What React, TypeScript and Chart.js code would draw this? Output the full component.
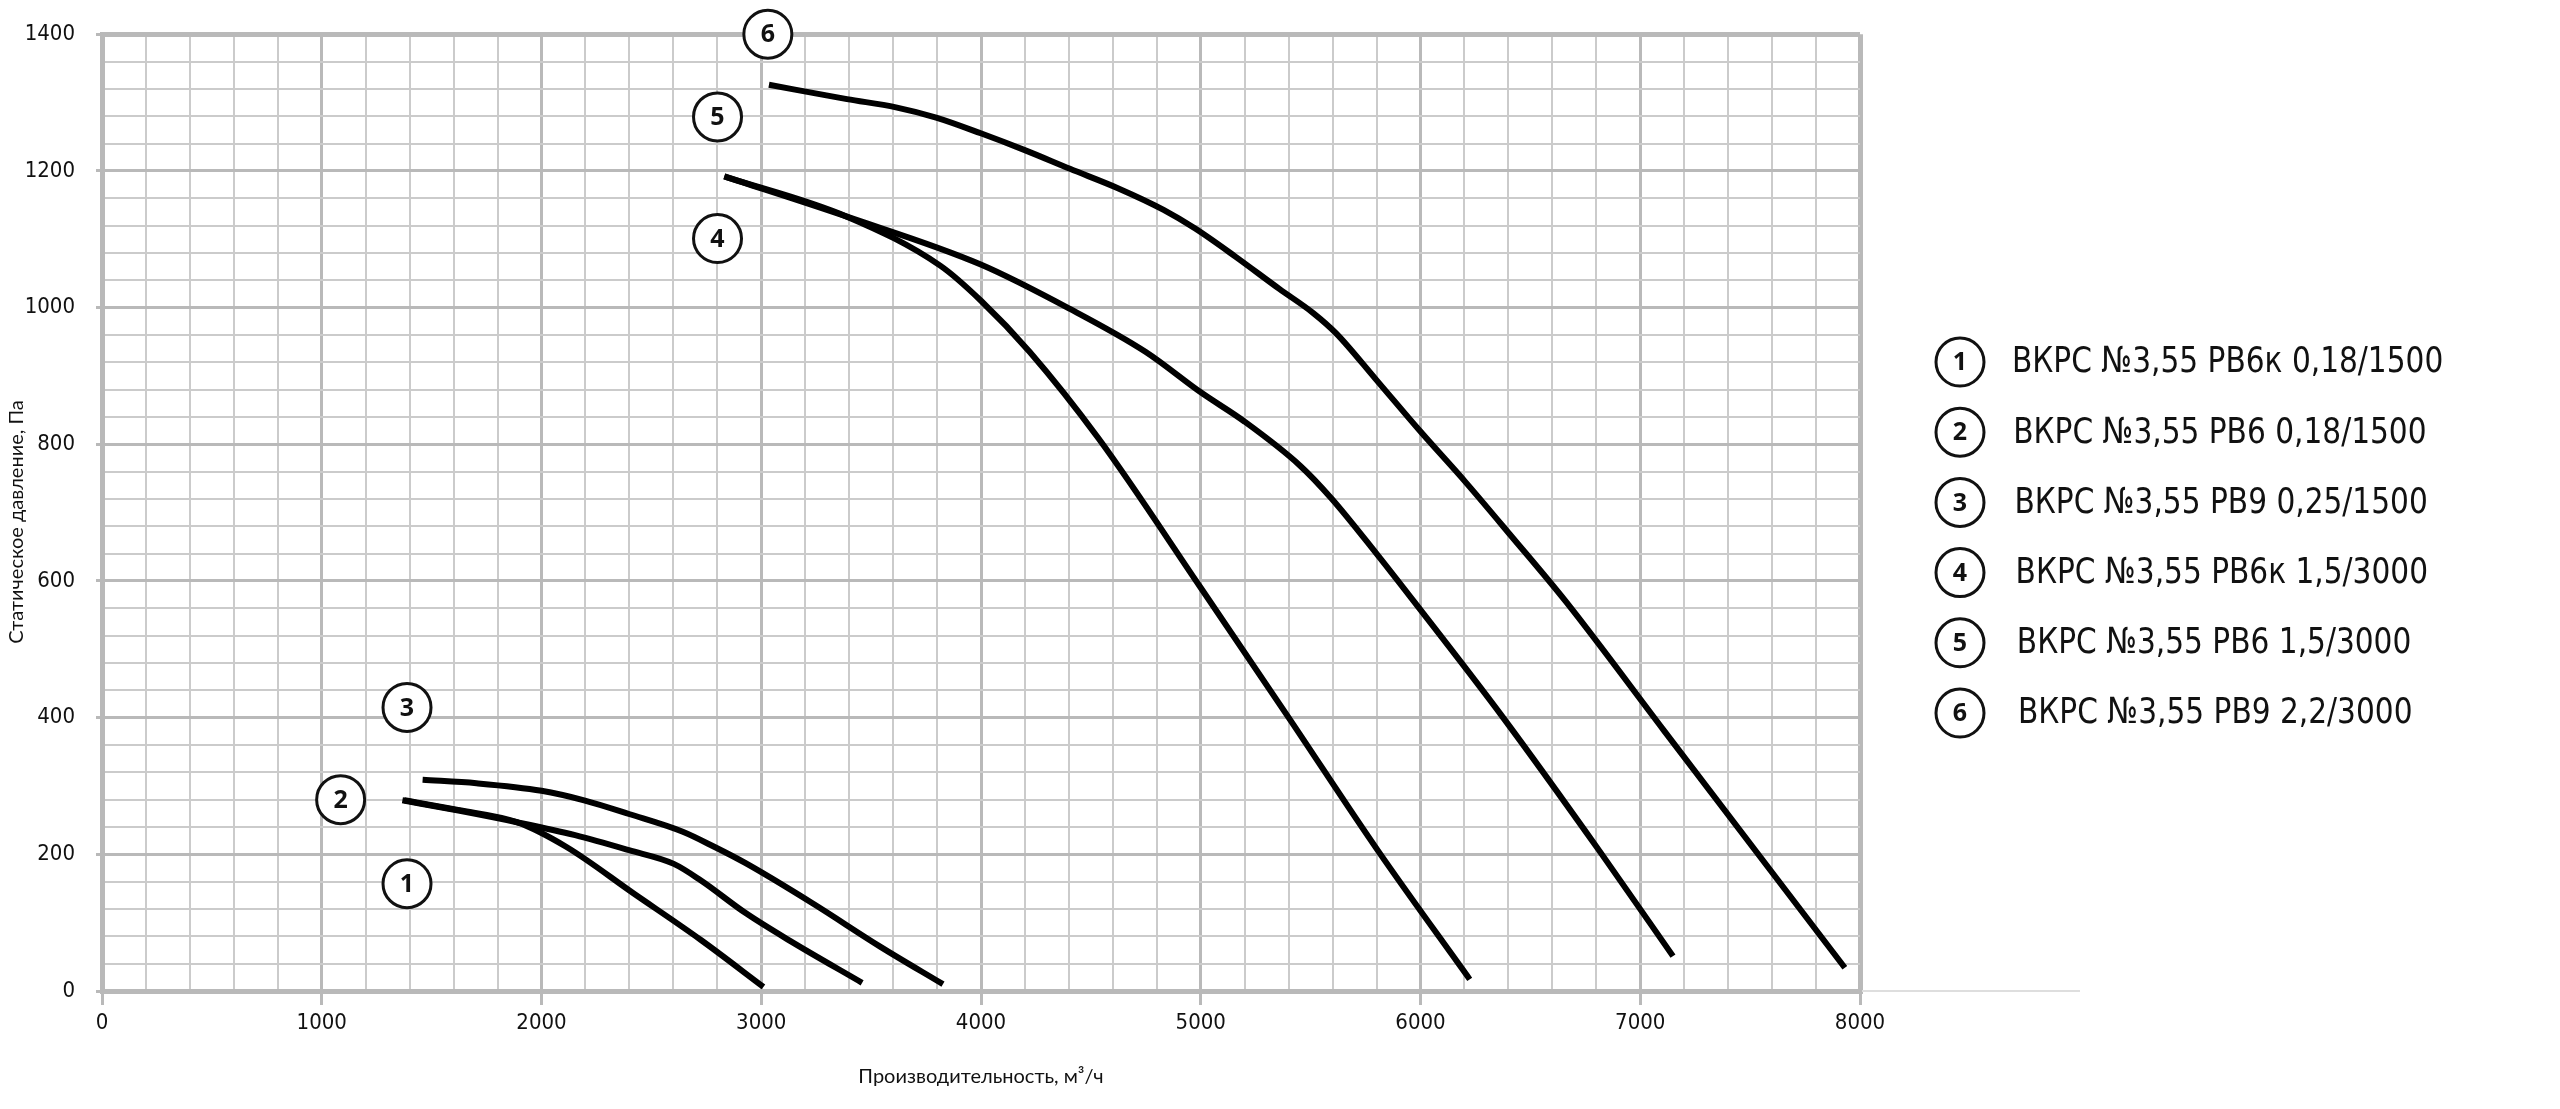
import React, { useEffect, useRef } from 'react';
import { Chart, registerables } from 'chart.js';

Chart.register(...registerables);

// ---- data (airflow m³/h, static pressure Pa) ----
const curve1X = [1375, 1620, 1888, 2112, 2418, 2724, 3010];
const curve1Y = [279, 265, 247, 211, 143, 75, 6];

const curve2X = [1367, 1622, 1888, 2153, 2398, 2602, 2724, 2929, 3133, 3459];
const curve2Y = [279, 264, 247, 228, 206, 186, 162, 114, 73, 12];

const curve3X = [1459, 1704, 2000, 2194, 2398, 2643, 2786, 2929, 3235, 3541, 3827];
const curve3Y = [309, 304, 293, 279, 259, 233, 211, 187, 128, 65, 10];

const curve4X = [2832, 3390, 3816, 4000, 4222, 4536, 5000, 5400, 5807, 6224];
const curve4Y = [1192, 1133, 1061, 1010, 935, 808, 590, 400, 205, 17];

const curve5X = [2832, 3390, 3999, 4405, 4750, 5000, 5200, 5451, 5594, 5797, 5970, 6376, 6823, 7149];
const curve5Y = [1192, 1133, 1063, 998, 935, 876, 833, 769, 721, 641, 570, 400, 201, 51];

const curve6X = [3035, 3390, 3613, 3796, 3999, 4202, 4405, 4628, 4831, 4973, 5156, 5359, 5512, 5614, 5797, 5996, 6204, 6407, 6661, 7108, 7931];
const curve6Y = [1326, 1305, 1293, 1278, 1255, 1230, 1203, 1174, 1143, 1116, 1075, 1027, 992, 963, 895, 820, 745, 668, 570, 381, 34];

const seriesNames = [
  'ВКРС №3,55 РВ6к 0,18/1500',
  'ВКРС №3,55 РВ6 0,18/1500',
  'ВКРС №3,55 РВ9 0,25/1500',
  'ВКРС №3,55 РВ6к 1,5/3000',
  'ВКРС №3,55 РВ6 1,5/3000',
  'ВКРС №3,55 РВ9 2,2/3000',
];

// circled curve numbers placed on the plot (data coords)
const markerX = [1388, 1086, 1388, 2801, 2801, 3030];
const markerY = [157, 280, 415, 1101, 1279, 1400];

const xMin = 0;
const xMax = 8000;
const xMinorStep = 200;
const xMajorStep = 1000;
const yMin = 0;
const yMax = 1400;
const yMinorStep = 40;
const yMajorStep = 200;

const xAxisTitle = 'Производительность, м³/ч';
const yAxisTitle = 'Статическое давление, Па';

const allX = [curve1X, curve2X, curve3X, curve4X, curve5X, curve6X];
const allY = [curve1Y, curve2Y, curve3Y, curve4Y, curve5Y, curve6Y];

const NARROW = '"Liberation Sans Narrow", "Arial Narrow", "DejaVu Sans Condensed", sans-serif';
const TITLE_FONT = 'Lato, "Open Sans", sans-serif';
const MAJOR_COLOR = '#b9b9b9';
const MINOR_COLOR = '#cbcbcb';

function drawBadge(ctx: CanvasRenderingContext2D, x: number, y: number, n: number) {
  ctx.save();
  ctx.beginPath();
  ctx.arc(x, y, 24, 0, Math.PI * 2);
  ctx.fillStyle = '#ffffff';
  ctx.fill();
  ctx.lineWidth = 3;
  ctx.strokeStyle = '#111111';
  ctx.stroke();
  ctx.fillStyle = '#111111';
  ctx.font = 'bold 25px "Open Sans", "Noto Sans", sans-serif';
  ctx.textAlign = 'center';
  ctx.textBaseline = 'middle';
  ctx.fillText(String(n), x, y + 1);
  ctx.restore();
}

const overlayPlugin = {
  id: 'overlay',
  afterDatasetsDraw(chart: any) {
    const ctx: CanvasRenderingContext2D = chart.ctx;
    const xs = chart.scales.x;
    const ys = chart.scales.y;

    // thin extension of the base line to the right
    ctx.save();
    ctx.strokeStyle = '#dedede';
    ctx.lineWidth = 2;
    ctx.beginPath();
    ctx.moveTo(xs.right + 2, ys.bottom);
    ctx.lineTo(xs.right + 220, ys.bottom);
    ctx.stroke();
    ctx.restore();

    markerX.forEach((v, i) => {
      drawBadge(ctx, xs.getPixelForValue(v), ys.getPixelForValue(markerY[i]), i + 1);
    });

    // legend
    const legendCx = xs.right + 100;
    const legendTop = 362;
    const legendStep = 70.2;
    seriesNames.forEach((name, i) => {
      const cy = legendTop + i * legendStep;
      drawBadge(ctx, legendCx, cy, i + 1);
      ctx.save();
      ctx.fillStyle = '#111111';
      ctx.font = `36px ${NARROW}`;
      ctx.textAlign = 'left';
      ctx.textBaseline = 'middle';
      ctx.translate(legendCx + 52 + i * 1.2, cy + 1);
      ctx.scale(0.915, 1);
      ctx.fillText(name, 0, 0);
      ctx.restore();
    });

    // axis titles
    ctx.save();
    ctx.fillStyle = '#111111';
    ctx.font = `20px ${TITLE_FONT}`;
    ctx.textAlign = 'center';
    ctx.textBaseline = 'middle';
    ctx.fillText(xAxisTitle, (xs.left + xs.right) / 2, 1077);
    ctx.translate(17, 522);
    ctx.rotate(-Math.PI / 2);
    ctx.fillText(yAxisTitle, 0, 0);
    ctx.restore();
  },
};

export default function App() {
  const canvasRef = useRef<HTMLCanvasElement | null>(null);

  useEffect(() => {
    if (!canvasRef.current) return;
    const datasets = allX.map((xsArr, i) => ({
      label: seriesNames[i],
      data: xsArr.map((x, j) => ({ x, y: allY[i][j] })),
      borderColor: '#000000',
      backgroundColor: '#000000',
      borderWidth: 6,
      pointRadius: 0,
      fill: false,
      cubicInterpolationMode: 'monotone' as const,
      borderCapStyle: 'butt' as const,
      borderJoinStyle: 'round' as const,
    }));

    const isMajor = (v: number, step: number) => Math.abs(v / step - Math.round(v / step)) < 1e-6;

    const chart = new Chart(canvasRef.current, {
      type: 'line',
      data: { datasets },
      plugins: [overlayPlugin],
      options: {
        animation: false,
        responsive: false,
        maintainAspectRatio: false,
        layout: { padding: { left: 0, top: 29, right: 700, bottom: 0 } },
        plugins: {
          legend: { display: false },
          tooltip: { enabled: false },
          title: { display: false },
        },
        scales: {
          x: {
            type: 'linear',
            min: xMin,
            max: xMax,
            afterFit: (scale: any) => {
              scale.height = 118;
            },
            ticks: {
              stepSize: xMinorStep,
              autoSkip: false,
              maxRotation: 0,
              padding: 5,
              color: '#111111',
              font: { family: NARROW, size: 22 },
              callback: (v: any) => (isMajor(Number(v), xMajorStep) ? String(v) : ''),
            },
            grid: {
              color: (c: any) => (c.tick && isMajor(c.tick.value, xMajorStep) ? MAJOR_COLOR : MINOR_COLOR),
              lineWidth: (c: any) => {
                if (!c.tick) return 2;
                const v = c.tick.value;
                if (v === xMin || v === xMax) return 5;
                return isMajor(v, xMajorStep) ? 3 : 2;
              },
              tickColor: (c: any) => (c.tick && isMajor(c.tick.value, xMajorStep) ? MAJOR_COLOR : 'rgba(0,0,0,0)'),
              tickLength: 14,
              tickWidth: 3,
            },
            border: { display: true, color: MAJOR_COLOR, width: 5 },
          },
          y: {
            type: 'linear',
            min: yMin,
            max: yMax,
            afterFit: (scale: any) => {
              scale.width = 102;
            },
            ticks: {
              stepSize: yMinorStep,
              autoSkip: false,
              padding: 21,
              color: '#111111',
              font: { family: NARROW, size: 22 },
              callback: (v: any) => (isMajor(Number(v), yMajorStep) ? String(v) : ''),
            },
            grid: {
              color: (c: any) => (c.tick && isMajor(c.tick.value, yMajorStep) ? MAJOR_COLOR : MINOR_COLOR),
              lineWidth: (c: any) => {
                if (!c.tick) return 2;
                const v = c.tick.value;
                if (v === yMin || v === yMax) return 5;
                return isMajor(v, yMajorStep) ? 3 : 2;
              },
              tickColor: (c: any) => (c.tick && isMajor(c.tick.value, yMajorStep) ? MAJOR_COLOR : 'rgba(0,0,0,0)'),
              tickLength: 6,
              tickWidth: 3,
            },
            border: { display: true, color: MAJOR_COLOR, width: 5 },
          },
        },
      },
    });
    return () => chart.destroy();
  }, []);

  return (
    <div style={{ position: 'fixed', left: 0, top: 0, width: 2560, height: 1109, background: '#ffffff' }}>
      <canvas ref={canvasRef} width={2560} height={1109} style={{ display: 'block', width: 2560, height: 1109 }} />
    </div>
  );
}
